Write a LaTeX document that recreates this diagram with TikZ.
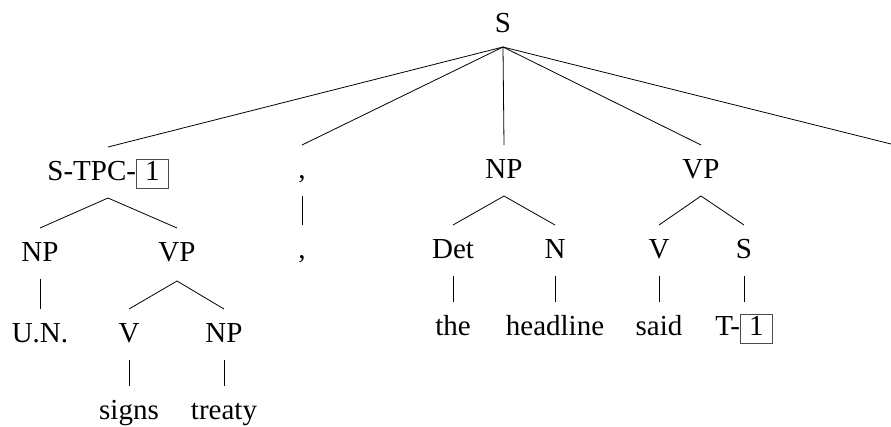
\documentclass[tikz,border=0pt]{standalone}
\usepackage{fontspec}
\setmainfont{Liberation Serif}
\newcommand{\tracebox}[1]{{\setlength{\fboxsep}{0pt}\setlength{\fboxrule}{0.8pt}\fcolorbox{black!70}{white}{\makebox[31pt]{\rule[-8pt]{0pt}{28.5pt}#1}}}}
\begin{document}
\begin{tikzpicture}[x=1pt,y=-1pt,
  lab/.style={anchor=base,inner sep=0pt,outer sep=0pt,text height=33pt,text depth=18pt,font=\fontsize{29}{35}\selectfont},
  edge/.style={line width=0.8pt,black}]
\useasboundingbox (0,0) rectangle (891,426);
% root
\node[lab,text depth=15pt] (root) at (503,32) {S};
% level 1
\node[lab] (stpc) at (108,180) {S-TPC-\tracebox{1}};
\node[lab] (cm1) at (302,178) {,};
\node[lab] (np1) at (504,178) {NP};
\node[lab] (vp1) at (701,178) {VP};
\coordinate (off) at (891,144);
% left subtree
\node[lab] (np2) at (40,261) {NP};
\node[lab,text depth=20pt] (vp2) at (177,261) {VP};
\node[lab] (un) at (40,342) {U.N.};
\node[lab] (v3) at (129,342) {V};
\node[lab] (np3) at (224,342) {NP};
\node[lab] (signs) at (129,419) {signs};
\node[lab] (treaty) at (224,419) {treaty};
% comma
\node[lab] (cm2) at (302,258) {,};
% NP subtree
\node[lab] (det) at (453,258) {Det};
\node[lab] (n) at (555,258) {N};
\node[lab] (the) at (453,335) {the};
\node[lab] (headline) at (555,335) {headline};
% VP subtree
\node[lab] (v2) at (659,258) {V};
\node[lab] (s2) at (744,258) {S};
\node[lab] (said) at (659,335) {said};
\node[lab] (t1) at (744,335) {T-\tracebox{1}};
% edges
\draw[edge] (root.south) -- (stpc.north);
\draw[edge] (root.south) -- (cm1.north);
\draw[edge] (root.south) -- (np1.north);
\draw[edge] (root.south) -- (vp1.north);
\draw[edge] (root.south) -- (off);
\draw[edge] (np2.north) -- (stpc.south) -- (vp2.north);
\draw[edge] (np2.south) -- (un.north);
\draw[edge] (v3.north) -- (vp2.south) -- (np3.north);
\draw[edge] (v3.south) -- (signs.north);
\draw[edge] (np3.south) -- (treaty.north);
\draw[edge] (cm1.south) -- (cm2.north);
\draw[edge] (det.north) -- (np1.south) -- (n.north);
\draw[edge] (det.south) -- (the.north);
\draw[edge] (n.south) -- (headline.north);
\draw[edge] (v2.north) -- (vp1.south) -- (s2.north);
\draw[edge] (v2.south) -- (said.north);
\draw[edge] (s2.south) -- (t1.north);
\end{tikzpicture}
\end{document}
